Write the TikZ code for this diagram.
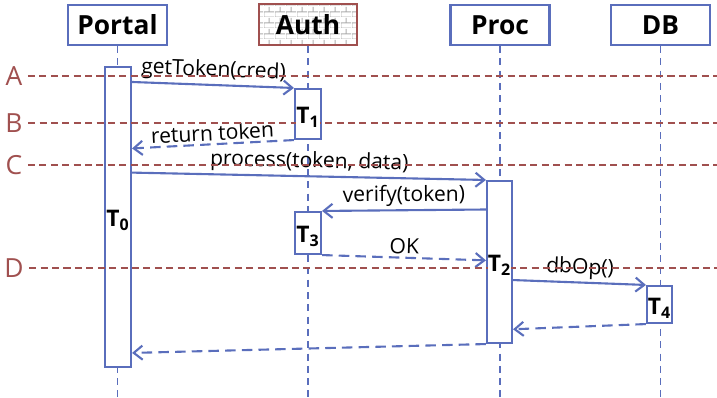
\documentclass[tikz,border=0pt]{standalone}
\usepackage{fontspec}
\setmainfont{Open Sans}
\usetikzlibrary{positioning,calc,arrows.meta,patterns.meta}

\definecolor{seqblue}{HTML}{5A6EBC}
\definecolor{seqred}{HTML}{A0504F}

% small bricks for the wall box
\tikzdeclarepattern{
  name=wallbricks,
  type=uncolored,
  bounding box={(0pt,0pt) and (6pt,6pt)},
  tile size={(6pt,6pt)},
  code={
    \draw[line width=0.5pt] (0pt,0pt) -- (6pt,0pt) (0pt,3pt) -- (6pt,3pt)
      (0pt,0pt) -- (0pt,3pt) (3pt,3pt) -- (3pt,6pt);
  }
}

\begin{document}
\begin{tikzpicture}[
    x=0.02cm, y=-0.02cm
    ,hd/.style={draw=seqblue, line width=1.2pt, fill=white, minimum width=1.98cm,
      minimum height=0.8cm, font=\fontsize{15}{18}\selectfont\bfseries}
    ,wall/.style={hd, draw=seqred, pattern=wallbricks, pattern color=gray!65}
    ,act/.style={draw=seqblue, line width=1.2pt, fill=white, minimum width=0.52cm, inner sep=0pt}
    ,tl/.style={fill=white, inner sep=0pt, yshift=-2pt, font=\fontsize{13}{15}\selectfont\bfseries}
    ,life/.style={seqblue, line width=1pt, dash pattern=on 4pt off 3pt}
    ,msg/.style={seqblue, line width=1.2pt, -{Straight Barb[length=5pt,width=8pt]}}
    ,ret/.style={msg, dash pattern=on 6pt off 3.5pt}
    ,lab/.style={above, sloped, text=black, inner sep=1.5pt, font=\fontsize{12}{14}\selectfont}
    ,phase/.style={seqred, line width=1.2pt, dash pattern=on 4pt off 2.5pt}
    ,ph/.style={text=seqred, inner sep=0pt, font=\fontsize{15}{18}\selectfont}
  ]
  \useasboundingbox (0,0) rectangle (717,397);
  \coordinate (bot) at (0,397);
  \coordinate (edge) at (717,0);

  % participants
  \node[hd] (Portal) at (117.5,25) {Portal};
  \node[wall, minimum width=1.96cm, minimum height=0.82cm] (Auth) at (308,24.5) {Auth};
  \node[hd] (Proc) at (500,25) {Proc};
  \node[hd] (DB) at (660.5,25) {DB};

  \foreach \who in {Portal,Auth,Proc,DB}
    \draw[life] (\who.south) -- (\who.south |- bot);

  % activations
  \node[act, minimum height=6cm] (T0) at (118,217) {};
  \node[act, minimum height=1cm] (T1) at (308,114) {};
  \node[act, minimum height=3.24cm, minimum width=0.5cm] (T2) at (499.5,262) {};
  \node[act, minimum height=0.84cm] (T3) at (308,233) {};
  \node[act, minimum height=0.74cm, minimum width=0.5cm] (T4) at (659.5,304.5) {};

  % messages
  \draw[msg] ($(T0.north east)!.053!(T0.south east)$) -- node[lab] {getToken(cred)} (T1.north west);
  \draw[ret] (T1.south west) -- node[lab] {return token} ($(T0.north east)!.273!(T0.south east)$);
  \draw[msg] ($(T0.north east)!.353!(T0.south east)$) -- node[lab] {process(token, data)} (T2.north west);
  \draw[msg] ($(T2.north west)!.18!(T2.south west)$) -- node[lab] {verify(token)} (T3.north east);
  \draw[ret] (T3.south east) -- node[lab] {OK} ($(T2.north west)!.49!(T2.south west)$);
  \draw[msg] ($(T2.north east)!.61!(T2.south east)$) -- node[lab] {dbOp()} (T4.north west);
  \draw[ret] (T4.south west) -- ($(T2.north east)!.91!(T2.south east)$);
  \draw[ret] (T2.south west) -- ($(T0.north east)!.95!(T0.south east)$);

  % time marks
  \foreach \p/\y in {A/76,B/123,C/165,D/268} {
    \node[ph] (\p) at (14,\y) {\p};
    \draw[phase] ([xshift=3pt]\p.east) -- (\p.east -| edge);
  }

  \node[tl] (t0) at (T0) {T\textsubscript{0}};
  \node[tl] (t1) at (T1) {T\textsubscript{1}};
  \node[tl] (t2) at (T2) {T\textsubscript{2}};
  \node[tl] (t3) at (T3) {T\textsubscript{3}};
  \node[tl] (t4) at (T4) {T\textsubscript{4}};
\end{tikzpicture}
\end{document}
